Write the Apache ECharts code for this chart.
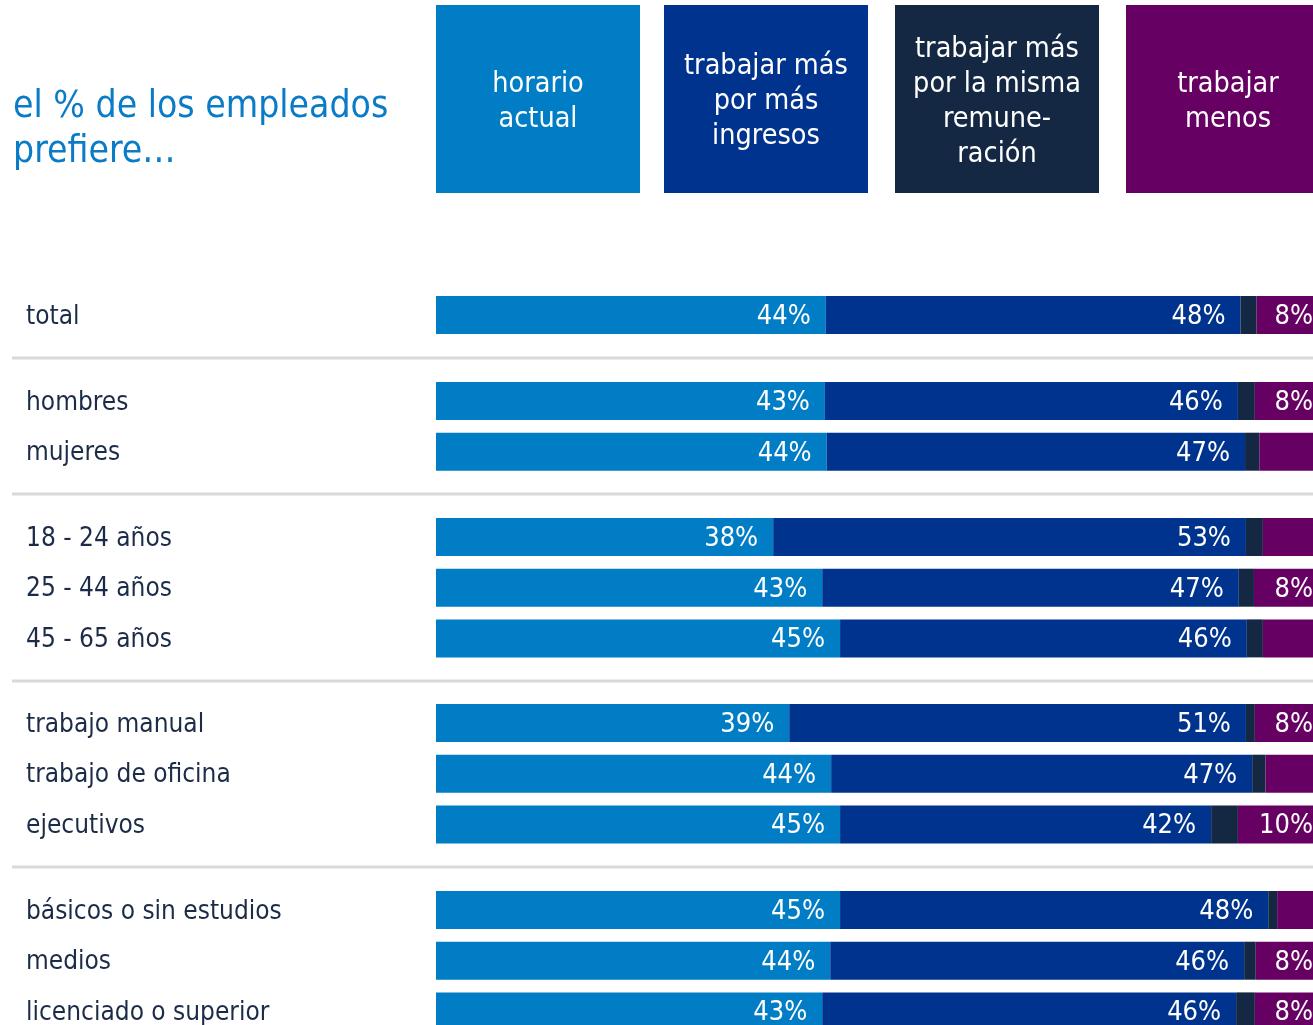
<!DOCTYPE html>
<html>
<head>
<meta charset="utf-8">
<script src="https://cdn.jsdelivr.net/npm/echarts@6/dist/echarts.min.js"></script>
<style>
html,body{margin:0;padding:0;background:#fff;}
#chart{width:1313px;height:1025px;}
</style>
</head>
<body>
<div id="chart"></div>
<script>
// ---------- data ----------
const groups = [
  ['total'],
  ['hombres', 'mujeres'],
  ['18 - 24 años', '25 - 44 años', '45 - 65 años'],
  ['trabajo manual', 'trabajo de oficina', 'ejecutivos'],
  ['básicos o sin estudios', 'medios', 'licenciado o superior']
];
const seriesNames = [
  'horario\nactual',
  'trabajar más\npor más\ningresos',
  'trabajar más\npor la misma\nremune-\nración',
  'trabajar\nmenos'
];
// values in % (flat, same order as categories in groups)
const horarioActual     = [43.7, 43.6, 43.8, 37.8, 43.3, 45.3, 39.6, 44.3, 45.3, 45.3, 44.2, 43.3];
const masPorMasIngresos = [46.5, 46.3, 46.9, 53.0, 46.7, 45.6, 51.2, 47.2, 41.6, 48.0, 46.4, 46.4];
const masMismaRemun     = [1.8, 1.9, 1.6, 1.9, 1.7, 1.8, 1.0, 1.5, 3.0, 1.0, 1.3, 2.1];
const trabajarMenos     = [8.0, 8.2, 7.7, 7.3, 8.3, 7.3, 8.2, 7.0, 10.1, 5.7, 8.1, 8.2];
// labels printed on the bars (null = not printed)
const lblHorario  = [44, 43, 44, 38, 43, 45, 39, 44, 45, 45, 44, 43];
const lblIngresos = [48, 46, 47, 53, 47, 46, 51, 47, 42, 48, 46, 46];
const lblMisma    = [null, null, null, null, null, null, null, null, null, null, null, null];
const lblMenos    = [8, 8, null, null, 8, null, 8, null, 10, null, 8, 8];

// ---------- style ----------
const colors = ['#007dc5', '#00338d', '#142843', '#660062'];
const FONT = "'DejaVu Sans Condensed', 'DejaVu Sans', sans-serif";
const valueSets = [horarioActual, masPorMasIngresos, masMismaRemun, trabajarMenos];
const labelSets = [lblHorario, lblIngresos, lblMisma, lblMenos];

// layout
const firstCenters = [315, 401, 537, 723, 910];
const pitch = 50.7;
const barLeft = 436, barWidthPx = 892;

function offsetOf(g) { let o = 0; for (let i = 0; i < g; i++) o += groups[i].length; return o; }

const grid = [], xAxis = [], yAxis = [], series = [];
groups.forEach((cats, g) => {
  const off = offsetOf(g);
  grid.push({left: barLeft, top: firstCenters[g] - pitch / 2, width: barWidthPx, height: cats.length * pitch,
    containLabel: false, outerBoundsMode: 'none'});
  xAxis.push({gridIndex: g, type: 'value', min: 0, max: 100, show: false});
  yAxis.push({
    gridIndex: g, type: 'category', inverse: true, data: cats,
    axisLine: {show: false}, axisTick: {show: false}, splitLine: {show: false},
    axisLabel: {
      align: 'left', margin: barLeft - 26,
      formatter: (v) => '{c|' + v + '}',
      rich: {c: {fontSize: 26, color: '#1c2c48', fontFamily: FONT, padding: [4, 0, 0, 0]}}
    }
  });
  valueSets.forEach((vals, s) => {
    const labs = labelSets[s];
    series.push({
      name: seriesNames[s], type: 'bar', stack: 'g' + g,
      xAxisIndex: g, yAxisIndex: g, barWidth: 38,
      itemStyle: {color: colors[s]},
      label: {
        show: true, position: 'insideRight', distance: 15, offset: [0, 2],
        color: '#ffffff', fontSize: 27, fontFamily: FONT,
        formatter: (p) => {
          const v = labs[off + p.dataIndex];
          return v == null ? '' : v + '%';
        }
      },
      data: vals.slice(off, off + cats.length)
    });
  });
});

// header boxes & separators
const graphic = [];
const boxX = [436, 664, 895, 1126];
seriesNames.forEach((n, i) => {
  graphic.push({type: 'rect', left: boxX[i], top: 5, shape: {width: 204, height: 188}, style: {fill: colors[i]}, z: 10});
  graphic.push({type: 'text', x: boxX[i] + 102, y: 102, z: 11,
    style: {text: n, fill: '#fff', fontSize: 28.5, fontFamily: FONT, lineHeight: 35, align: 'center', verticalAlign: 'middle'}});
});
for (let g = 1; g < groups.length; g++) {
  const prevLast = firstCenters[g - 1] + (groups[g - 1].length - 1) * pitch;
  const y = Math.round((prevLast + firstCenters[g]) / 2);
  graphic.push({type: 'rect', left: 12, top: y - 1.5, shape: {width: 1301, height: 3}, style: {fill: '#d9d9d9'}, z: 1});
}

const chart = echarts.init(document.getElementById('chart'), null, {renderer: 'canvas'});
chart.setOption({
  backgroundColor: '#ffffff',
  animation: false,
  title: {
    text: 'el % de los empleados\nprefiere…', left: 13, top: 85, padding: 0,
    textStyle: {color: '#0a7bc7', fontSize: 37, fontWeight: 'normal', fontFamily: FONT, lineHeight: 45}
  },
  grid, xAxis, yAxis, series, graphic
});
</script>
</body>
</html>
